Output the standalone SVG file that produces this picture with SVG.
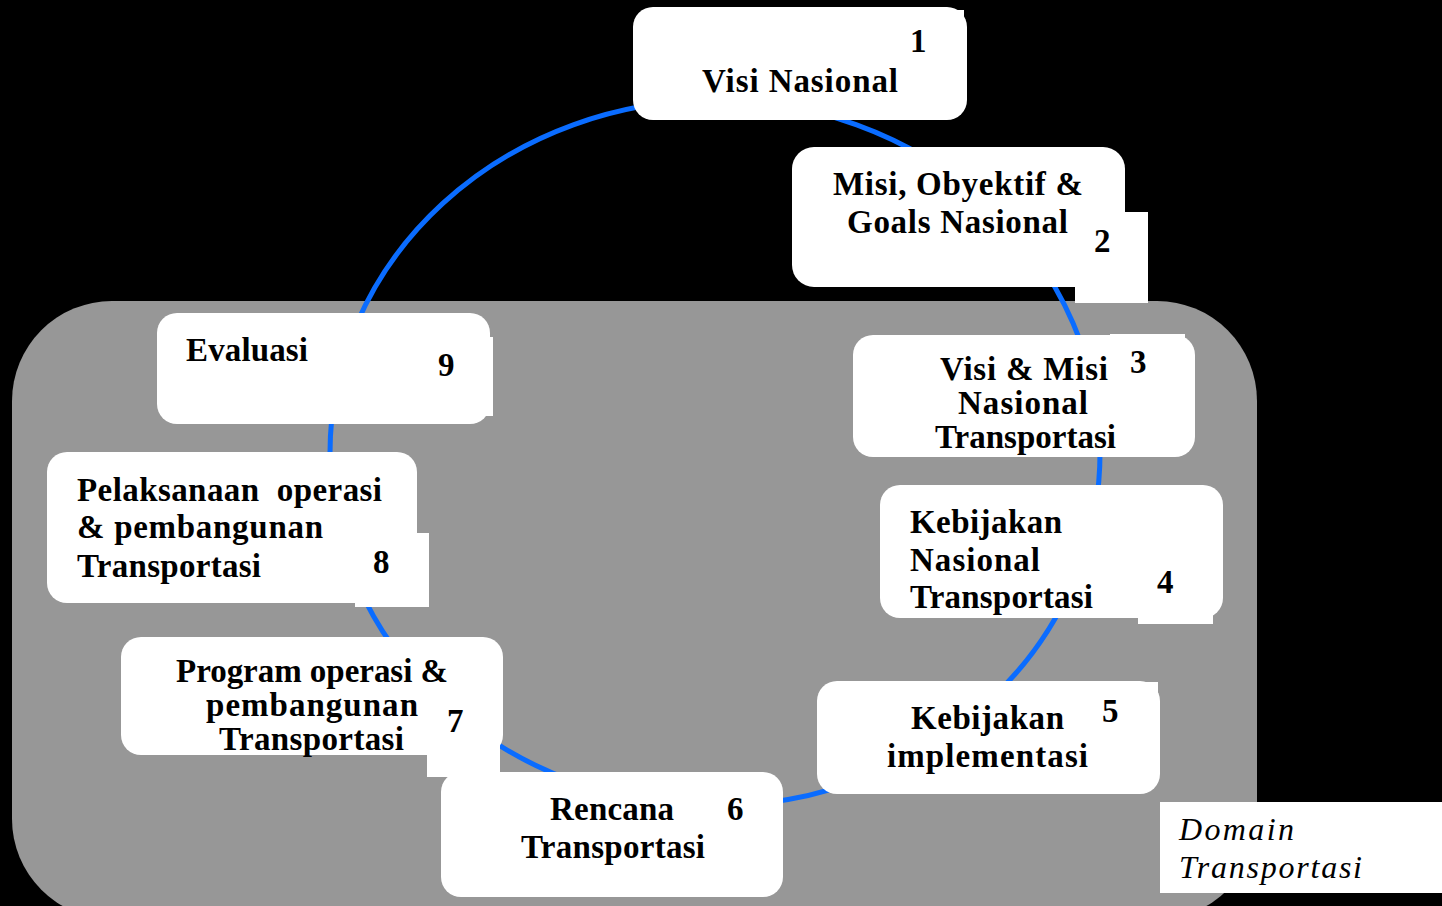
<svg xmlns="http://www.w3.org/2000/svg" width="1442" height="906" viewBox="0 0 1442 906">
<style>
.box{fill:#ffffff}
.patch{fill:#ffffff}
.t{font-family:"Liberation Serif","Times New Roman",serif;font-weight:bold;font-size:33px;fill:#000000}
.it{font-family:"Liberation Serif","Times New Roman",serif;font-style:italic;font-size:32px;fill:#000000}
.cycle{fill:none;stroke:#0a6cff;stroke-width:5}
</style>
<rect x="0" y="0" width="1442" height="906" fill="#000000"/>
<rect id="domain-area" x="12" y="301" width="1245" height="618" rx="100" ry="100" fill="#979797"/>
<g id="connectors">
<ellipse class="cycle" cx="715" cy="453" rx="385" ry="353"/>
</g>
<g id="node1">
<rect class="box" x="633" y="7" width="334" height="113" rx="20"/>
<rect class="patch" x="900" y="10" width="64" height="45"/>
<text class="t" x="910" y="52">1</text>
<text class="t" x="702" y="92" textLength="196" lengthAdjust="spacing">Visi Nasional</text>
</g>
<g id="node2">
<rect class="box" x="792" y="147" width="333" height="140" rx="22"/>
<rect class="patch" x="1075" y="212" width="73" height="91"/>
<text class="t" x="833" y="195" textLength="250" lengthAdjust="spacing">Misi, Obyektif &amp;</text>
<text class="t" x="847" y="233" textLength="221" lengthAdjust="spacing">Goals Nasional</text>
<text class="t" x="1094" y="252">2</text>
</g>
<g id="node3">
<rect class="box" x="853" y="335" width="342" height="122" rx="20"/>
<rect class="patch" x="1110" y="334" width="75" height="56"/>
<text class="t" x="940" y="380" textLength="168" lengthAdjust="spacing">Visi &amp; Misi</text>
<text class="t" x="1130" y="373">3</text>
<text class="t" x="958" y="414" textLength="130" lengthAdjust="spacing">Nasional</text>
<text class="t" x="935" y="448" textLength="181" lengthAdjust="spacing">Transportasi</text>
</g>
<g id="node4">
<rect class="box" x="880" y="485" width="343" height="133" rx="20"/>
<rect class="patch" x="1138" y="560" width="75" height="64"/>
<text class="t" x="910" y="533" textLength="152" lengthAdjust="spacing">Kebijakan</text>
<text class="t" x="910" y="571" textLength="130" lengthAdjust="spacing">Nasional</text>
<text class="t" x="910" y="608" textLength="183" lengthAdjust="spacing">Transportasi</text>
<text class="t" x="1157" y="593">4</text>
</g>
<g id="node5">
<rect class="box" x="817" y="681" width="343" height="113" rx="20"/>
<rect class="patch" x="1090" y="682" width="68" height="58"/>
<text class="t" x="911" y="729" textLength="153" lengthAdjust="spacing">Kebijakan</text>
<text class="t" x="1102" y="722">5</text>
<text class="t" x="887" y="767" textLength="201" lengthAdjust="spacing">implementasi</text>
</g>
<g id="node6">
<rect class="box" x="441" y="772" width="342" height="125" rx="20"/>
<text class="t" x="550" y="820" textLength="124" lengthAdjust="spacing">Rencana</text>
<text class="t" x="727" y="820">6</text>
<text class="t" x="521" y="858" textLength="184" lengthAdjust="spacing">Transportasi</text>
</g>
<g id="node7">
<rect class="box" x="121" y="637" width="382" height="118" rx="20"/>
<rect class="patch" x="427" y="690" width="73" height="87"/>
<text class="t" x="176" y="682" textLength="272" lengthAdjust="spacing">Program operasi &amp;</text>
<text class="t" x="206" y="716" textLength="212" lengthAdjust="spacing">pembangunan</text>
<text class="t" x="219" y="750" textLength="185" lengthAdjust="spacing">Transportasi</text>
<text class="t" x="447" y="732">7</text>
</g>
<g id="node8">
<rect class="box" x="47" y="452" width="370" height="151" rx="20"/>
<rect class="patch" x="355" y="533" width="74" height="74"/>
<text class="t" x="77" y="501" textLength="305" lengthAdjust="spacing" style="white-space:pre">Pelaksanaan  operasi</text>
<text class="t" x="77" y="538" textLength="246" lengthAdjust="spacing">&amp; pembangunan</text>
<text class="t" x="77" y="577" textLength="184" lengthAdjust="spacing">Transportasi</text>
<text class="t" x="373" y="573">8</text>
</g>
<g id="node9">
<rect class="box" x="157" y="313" width="333" height="111" rx="20"/>
<rect class="patch" x="425" y="337" width="68" height="79"/>
<text class="t" x="186" y="361" textLength="122" lengthAdjust="spacing">Evaluasi</text>
<text class="t" x="438" y="376">9</text>
</g>
<g id="domain-label">
<rect class="patch" x="1160" y="802" width="282" height="91"/>
<text class="it" x="1179" y="840" textLength="115" lengthAdjust="spacing">Domain</text>
<text class="it" x="1179" y="878" textLength="183" lengthAdjust="spacing">Transportasi</text>
</g>
</svg>
